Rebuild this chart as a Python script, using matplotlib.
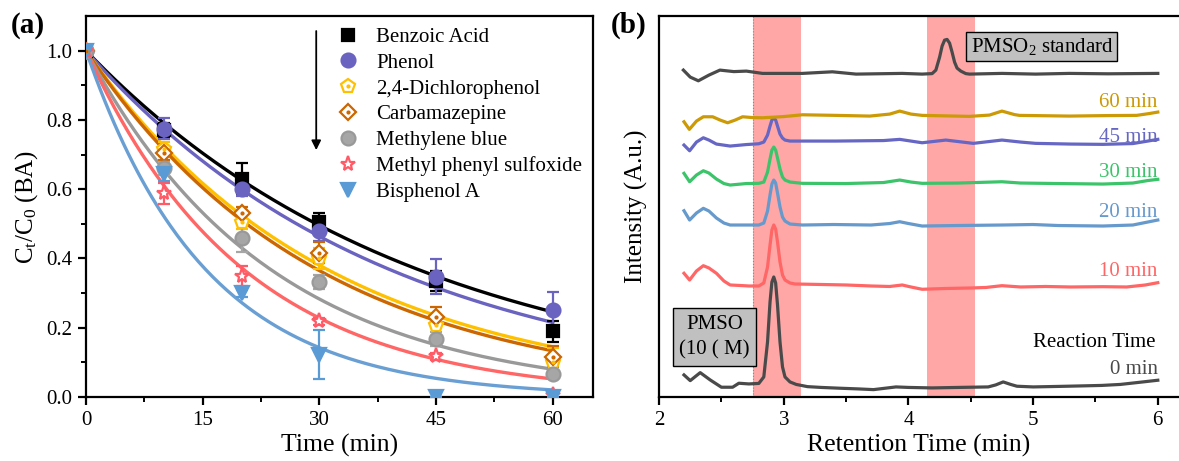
import numpy as np
import matplotlib
matplotlib.use("Agg")
import matplotlib.pyplot as plt

plt.rcParams["font.family"] = ["Liberation Serif", "DejaVu Serif"]
plt.rcParams["mathtext.fontset"] = "custom"
plt.rcParams["mathtext.rm"] = "Liberation Serif"
plt.rcParams["mathtext.it"] = "Liberation Serif:italic"

# ---------------- panel (a): degradation kinetics ----------------
time = [0, 10, 20, 30, 45, 60]
names = ["Benzoic Acid", "Phenol", "2,4-Dichlorophenol", "Carbamazepine",
         "Methylene blue", "Methyl phenyl sulfoxide", "Bisphenol A"]
ba = [1.0, 0.77, 0.63, 0.506, 0.335, 0.19]
ba_err = [0.0, 0.02, 0.045, 0.025, 0.03, 0.03]
phenol = [1.0, 0.775, 0.60, 0.48, 0.347, 0.252]
phenol_err = [0.0, 0.03, 0.02, 0.03, 0.05, 0.05]
dcp = [1.0, 0.715, 0.505, 0.40, 0.207, 0.10]
dcp_err = [0.0, 0.02, 0.02, 0.03, 0.03, 0.04]
cbz = [1.0, 0.705, 0.53, 0.417, 0.231, 0.116]
cbz_err = [0.0, 0.02, 0.02, 0.03, 0.03, 0.03]
mb = [1.0, 0.66, 0.46, 0.332, 0.168, 0.065]
mb_err = [0.0, 0.02, 0.04, 0.02, 0.02, 0.01]
mps = [1.0, 0.588, 0.349, 0.219, 0.118, 0.005]
mps_err = [0.0, 0.03, 0.03, 0.01, 0.01, 0.01]
bpa = [1.0, 0.645, 0.30, 0.122, 0.0, 0.0]
bpa_err = [0.0, 0.02, 0.01, 0.07, 0.0, 0.0]
# pseudo-first-order rate constants of the fitted curves (1/min)
k_fit = [0.0234, 0.0256, 0.0322, 0.0336, 0.0421, 0.0493, 0.065]

# ---------------- panel (b): chromatograms ----------------
trace_0min = [(2.20, 22), (2.25, 16.3), (2.33, 24.3), (2.41, 17), (2.50, 9.7), (2.59, 9.7),
              (2.64, 13.7), (2.72, 13), (2.80, 13.5), (2.84, 20), (2.87, 55), (2.89, 95),
              (2.905, 115), (2.92, 120), (2.935, 114), (2.95, 92), (2.97, 55), (2.99, 30),
              (3.01, 20), (3.05, 15), (3.10, 12.5), (3.19, 10.3), (3.30, 9.5), (3.45, 8.7),
              (3.60, 8.0), (3.72, 7.3), (3.80, 8.5), (3.90, 10), (4.00, 9.5), (4.19, 9),
              (4.40, 9.5), (4.64, 10), (4.70, 12), (4.76, 15), (4.82, 12.5), (4.87, 10.7),
              (5.00, 10), (5.20, 10.5), (5.38, 11), (5.55, 11.5), (5.70, 12.5), (5.88, 15),
              (6.00, 16.7)]
trace_10min = [(2.20, 123.7), (2.245, 117), (2.30, 126), (2.355, 131.3), (2.40, 129),
               (2.46, 123.7), (2.52, 116), (2.57, 112), (2.65, 111.5), (2.72, 111),
               (2.80, 111), (2.84, 114), (2.87, 130), (2.89, 152), (2.905, 167), (2.92, 172),
               (2.935, 168), (2.95, 155), (2.97, 135), (2.99, 122), (3.01, 117), (3.05, 114),
               (3.09, 113), (3.30, 112.5), (3.50, 112), (3.70, 111), (3.85, 110.5),
               (3.95, 112), (4.02, 110), (4.11, 107.7), (4.30, 108.5), (4.50, 109),
               (4.62, 109.5), (4.75, 111.3), (4.90, 110), (5.10, 110.5), (5.30, 110),
               (5.56, 110.3), (5.75, 110), (5.90, 112), (6.00, 114.3)]
trace_20min = [(2.20, 186.3), (2.245, 177), (2.30, 184), (2.355, 188.7), (2.40, 186),
               (2.46, 179), (2.52, 174), (2.57, 172), (2.70, 172), (2.80, 172), (2.84, 174),
               (2.87, 186), (2.89, 202), (2.905, 213), (2.92, 217), (2.935, 214), (2.95, 204),
               (2.97, 190), (2.99, 180), (3.01, 176), (3.05, 173), (3.15, 172), (3.40, 172.5),
               (3.70, 172), (3.85, 173.5), (3.93, 175.3), (4.00, 173.5), (4.11, 171),
               (4.40, 171.5), (4.75, 172), (5.00, 172.5), (5.20, 171.5), (5.56, 171),
               (5.80, 172), (5.92, 175), (6.00, 177)]
trace_30min = [(2.20, 223.7), (2.245, 215.3), (2.30, 222), (2.355, 226.3), (2.40, 224),
               (2.46, 218), (2.52, 213.5), (2.57, 212), (2.70, 213.5), (2.80, 213.7),
               (2.84, 215), (2.87, 225), (2.89, 238), (2.905, 247), (2.92, 250), (2.935, 247),
               (2.95, 239), (2.97, 228), (2.99, 220), (3.01, 217), (3.05, 215), (3.15, 213.7),
               (3.50, 213.5), (3.80, 214.5), (3.93, 217), (4.02, 215), (4.11, 213.7),
               (4.40, 214), (4.75, 215.3), (4.90, 214), (5.20, 213.5), (5.56, 213),
               (5.80, 214), (5.92, 216.5), (6.00, 217.7)]
trace_45min = [(2.20, 252), (2.245, 246.3), (2.30, 255), (2.355, 259.3), (2.40, 257),
               (2.46, 253), (2.57, 251), (2.70, 252.5), (2.80, 253.3), (2.84, 255),
               (2.87, 262), (2.89, 271), (2.905, 277), (2.92, 279), (2.935, 277), (2.95, 271),
               (2.97, 263), (2.99, 259), (3.01, 257), (3.05, 256), (3.42, 256), (3.80, 256.5),
               (3.93, 257.7), (4.02, 256), (4.11, 254.3), (4.30, 257), (4.52, 253.7),
               (4.75, 257), (4.90, 255), (5.02, 253.7), (5.30, 253), (5.56, 252.7),
               (5.80, 253.5), (5.92, 256), (6.00, 257.7)]
trace_60min = [(2.20, 275.3), (2.243, 267.7), (2.30, 276), (2.355, 280.3), (2.43, 280.3),
               (2.49, 277), (2.55, 274.3), (2.61, 277), (2.67, 280.3), (2.75, 279.5),
               (2.83, 279.3), (3.00, 280.5), (3.15, 282.3), (3.42, 281.7), (3.69, 281),
               (3.85, 283), (3.93, 286), (4.02, 283), (4.11, 281.7), (4.49, 280.7),
               (4.65, 282), (4.75, 286), (4.85, 282.5), (4.89, 281.7), (5.29, 281),
               (5.60, 281.5), (5.83, 281.7), (5.93, 283.5), (6.00, 285)]
trace_std = [(2.195, 327), (2.25, 320), (2.315, 316.3), (2.40, 322), (2.488, 327),
             (2.60, 325.5), (2.70, 326), (2.83, 323.7), (3.15, 323.7), (3.39, 325.3),
             (3.58, 323), (3.95, 323.7), (4.11, 323), (4.19, 323.5), (4.22, 327), (4.25, 340),
             (4.27, 351), (4.29, 357), (4.31, 357.7), (4.33, 354), (4.35, 345), (4.37, 335),
             (4.39, 329), (4.42, 326), (4.46, 323.5), (4.49, 323), (4.75, 323.7),
             (5.02, 323), (5.29, 323.7), (5.60, 323.3), (6.00, 323.7)]
trace_labels = ["0 min", "10 min", "20 min", "30 min", "45 min", "60 min"]
label_heights = [27, 125, 185, 225, 260, 295]
bands = [(2.751, 3.136), (4.15, 4.535)]

# ---------------- figure ----------------
fig = plt.figure(figsize=(11.79, 4.61), dpi=100)
ax1 = fig.add_axes([0.073, 0.139, 0.430, 0.826])
ax2 = fig.add_axes([0.559, 0.139, 0.441, 0.826])

series = [ba, phenol, dcp, cbz, mb, mps, bpa]
errs = [ba_err, phenol_err, dcp_err, cbz_err, mb_err, mps_err, bpa_err]
colors = ["black", "#6a63c0", "#ffc000", "#cc6600", "#a6a6a6", "#ff5a66", "#5b9bd5"]
line_colors = ["black", "#6a63c0", "#ffc000", "#cc6600", "#999999", "#ff6666", "#6a9fd4"]
markers = ["s", "o", "p", "D", "o", "*", "v"]
msizes = [9, 10, 10, 8, 10, 11, 10]
open_marker = [False, False, True, True, False, True, False]

tt = np.linspace(0, 60, 200)
for i in range(len(series)):
    ax1.plot(tt, np.exp(-k_fit[i] * tt), color=line_colors[i], lw=2.4, zorder=2)

handles = []
for i in range(len(series)):
    face = "white" if open_marker[i] else colors[i]
    edge = "#999999" if names[i] == "Methylene blue" else colors[i]
    ax1.errorbar(time, series[i], yerr=errs[i], fmt="none", ecolor=colors[i],
                 elinewidth=1.6, capsize=4, capthick=1.6, zorder=3)
    h, = ax1.plot(time, series[i], ls="none", marker=markers[i], ms=msizes[i],
                  mfc=face, mec=edge, mew=1.6, zorder=4)
    if open_marker[i] and markers[i] != "*":
        d, = ax1.plot(time, series[i], ls="none", marker="o", ms=2, color=colors[i], zorder=5)
        handles.append((h, d))
    else:
        handles.append(h)

ax1.legend(handles, names, loc="upper left", bbox_to_anchor=(0.455, 1.02), frameon=False,
           fontsize=15, handlelength=1.2, handletextpad=0.75, labelspacing=0.3)

ax1.annotate("", xy=(29.6, 0.705), xytext=(29.6, 1.065),
             arrowprops=dict(arrowstyle="-|>", color="black", lw=1.3, mutation_scale=14))

ax1.set_xlim(0, 65.2)
ax1.set_ylim(0, 1.1)
ax1.set_xticks([0, 15, 30, 45, 60])
ax1.set_xticks([7.5, 22.5, 37.5, 52.5], minor=True)
ax1.set_yticks([0, 0.2, 0.4, 0.6, 0.8, 1.0])
ax1.set_yticks([0.1, 0.3, 0.5, 0.7, 0.9], minor=True)
ax1.set_yticklabels(["0.0", "0.2", "0.4", "0.6", "0.8", "1.0"])
ax1.set_xlabel("Time (min)", fontsize=18.5, labelpad=3)
ax1.set_ylabel(r"C$_\mathregular{t}$/C$_\mathregular{0}$ (BA)", fontsize=18, labelpad=4)

# panel (b)
for lo, hi in bands:
    ax2.axvspan(lo, hi, color="#ffa6a6", lw=0, zorder=0)
ax2.axvline(bands[0][0], color="#888888", lw=0.8, ls=":", zorder=1)

traces = [trace_0min, trace_10min, trace_20min, trace_30min, trace_45min, trace_60min]
trace_colors = ["#4a4a4a", "#ff6666", "#6699cc", "#3cc46a", "#6666c4", "#cc9a06"]
for tr, c, lab, hy in zip(traces, trace_colors, trace_labels, label_heights):
    xs, ys = np.array(tr).T
    ax2.plot(xs, ys, color=c, lw=2.3, solid_joinstyle="round", zorder=3)
    ax2.text(6.0, hy, lab, color=c, fontsize=15, ha="right", va="center")
xs, ys = np.array(trace_std).T
ax2.plot(xs, ys, color="#4a4a4a", lw=2.3, solid_joinstyle="round", zorder=3)
ax2.text(5.98, 54, "Reaction Time", color="black", fontsize=15, ha="right", va="center")

ax2.text(5.07, 350.5, r"PMSO$_\mathregular{2}$ standard", fontsize=15, ha="center", va="center",
         bbox=dict(boxstyle="square,pad=0.2", fc="#c0c0c0", ec="black", lw=1))
ax2.text(2.445, 60, "PMSO\n(10 ( M)", fontsize=15, ha="center", va="center", linespacing=1.45,
         bbox=dict(boxstyle="square,pad=0.3", fc="#c0c0c0", ec="black", lw=1))

ax2.set_xlim(2, 6.17)
ax2.set_ylim(0, 381)
ax2.set_xticks([2, 3, 4, 5, 6])
ax2.set_xticks([2.5, 3.5, 4.5, 5.5], minor=True)
ax2.set_yticks([])
ax2.spines["right"].set_visible(False)
ax2.set_xlabel("Retention Time (min)", fontsize=18.5, labelpad=3)
ax2.set_ylabel("Intensity (A.u.)", fontsize=18, labelpad=8)

for ax in (ax1, ax2):
    for s in ax.spines.values():
        s.set_linewidth(1.6)
    ax.tick_params(which="major", direction="out", length=6, width=1.6, labelsize=15, pad=4)
    ax.tick_params(which="minor", direction="out", length=3.5, width=1.4)

fig.text(0.009, 0.945, "(a)", fontsize=21, fontweight="bold", va="center")
fig.text(0.518, 0.945, "(b)", fontsize=21, fontweight="bold", va="center")

fig.savefig("out.png", dpi=100)
